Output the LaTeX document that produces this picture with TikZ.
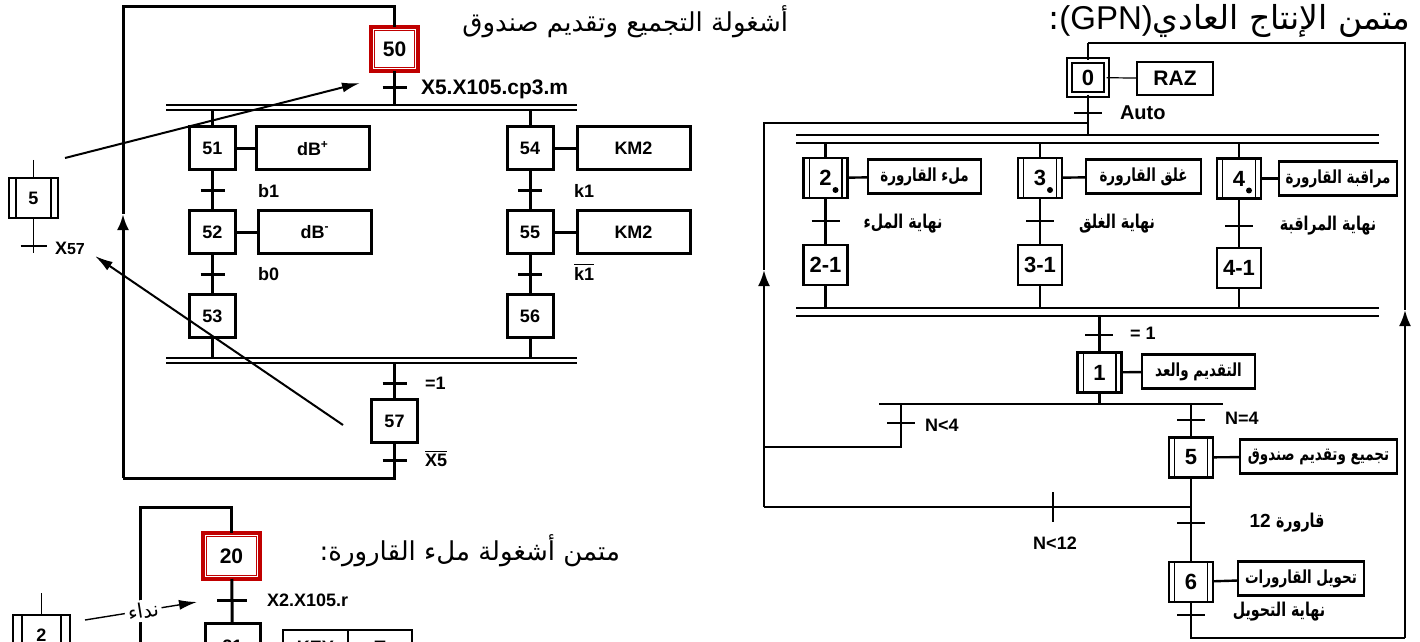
\documentclass[tikz,border=0pt]{standalone}
\usepackage{fontspec}
\setmainfont{Liberation Sans}
\newfontfamily\arabicfont[Script=Arabic]{DejaVu Sans}
\newfontfamily\arabicnarrow[Script=Arabic,FakeStretch=0.75]{DejaVu Sans}
\TeXXeTstate=1
\usetikzlibrary{arrows.meta,positioning}
\definecolor{StepRed}{HTML}{C00000}
\newcommand{\artxt}[1]{{\arabicfont\beginR #1\endR}}
\newcommand{\artn}[1]{{\arabicnarrow\beginR #1\endR}}

\begin{document}
\begin{tikzpicture}[x=0.5pt,y=-0.5pt,
  every node/.style={inner sep=0pt,outer sep=0pt,font=\bfseries\fontsize{9}{10}\selectfont},
  lnk/.style={line width=1.5pt},
  rlnk/.style={line width=1.2pt},
  thinlnk/.style={line width=0.7pt},
  dbar/.style={double,line width=1pt,double distance=1.5pt},
  rbar/.style={double,line width=1pt,double distance=3pt},
  stepbox/.style={draw,line width=1.5pt,minimum width=23pt,minimum height=21.5pt},
  actbox/.style={draw,line width=1.5pt,minimum width=56.5pt,minimum height=21.5pt},
  taskinit/.style={draw=StepRed,line width=1.8pt,minimum width=23.5pt,minimum height=22pt,
    font=\bfseries\fontsize{10.5}{12}\selectfont,
    path picture={\draw[StepRed,line width=0.5pt]
      ([shift={(1.9pt,-1.9pt)}]path picture bounding box.north west) rectangle
      ([shift={(-1.9pt,1.9pt)}]path picture bounding box.south east);}},
  twin/.style={path picture={\draw[line width=0.6pt]
      ([xshift=#1]path picture bounding box.north west) -- ([xshift=#1]path picture bounding box.south west)
      ([xshift=-#1]path picture bounding box.north east) -- ([xshift=-#1]path picture bounding box.south east);}},
  twin/.default=2.8pt,
  gstep/.style={draw,line width=1.4pt,minimum width=22pt,minimum height=20pt,font=\bfseries\fontsize{11}{12}\selectfont},
  ginit/.style={draw,double,line width=1.1pt,double distance=1.2pt,minimum width=18.6pt,minimum height=17.1pt,
    font=\bfseries\fontsize{11}{12}\selectfont},
  gact/.style={draw,line width=1.4pt,minimum height=17pt,font=\bfseries\fontsize{9}{10}\selectfont},
  cond/.style={anchor=west},
  gcond/.style={font=\bfseries\fontsize{9.5}{10}\selectfont},
  arr/.style={line width=1pt,-{Latex[length=9pt,width=5pt]}},
  uparr/.style={-{Latex[length=8pt,width=6pt]}},
  title/.style={anchor=east,font=\fontsize{13}{15}\selectfont}
]
\useasboundingbox (0,0) rectangle (1420,642);
\clip (0,0) rectangle (1420,642);
\fill[white] (0,0) rectangle (1420,642);

% ---- task 50
\node[taskinit] (s50) at (394.5,49) {50};
\coordinate (t50) at (394.5,88);
\node[cond] (c50) at (421,89) {\fontsize{10.5}{12}\selectfont X5.X105.cp3.m};
\coordinate (b1w) at (166,107.5);
\coordinate (b1e) at (577,107.5);
\node[stepbox] (s51) at (212.5,148.5) {51};
\node[actbox,right=10.5pt of s51] (a51) {dB\textsuperscript{+}};
\coordinate (t51) at (212.5,191);
\node[cond] (c51) at (258,191) {b1};
\node[stepbox] (s52) at (212.5,232) {52};
\node[actbox,right=11.5pt of s52] (a52) {dB\textsuperscript{-}};
\coordinate (t52) at (212.5,274);
\node[cond] (c52) at (258,274) {b0};
\node[stepbox] (s53) at (212.5,316) {53};
\node[stepbox] (s54) at (530,148.5) {54};
\node[actbox,right=12pt of s54] (a54) {KM2};
\coordinate (t54) at (530,191);
\node[cond] (c54) at (574,191) {k1};
\node[stepbox] (s55) at (530,232) {55};
\node[actbox,right=12pt of s55] (a55) {KM2};
\coordinate (t55) at (530,274);
\node[cond] (c55) at (574,272) {$\overline{\hbox{k1}}$};
\node[stepbox] (s56) at (530,316) {56};
\coordinate (b2w) at (166,360.5);
\coordinate (b2e) at (577,360.5);
\coordinate (t56) at (394.5,383);
\node[cond] (c56) at (425,383) {=1};
\node[stepbox] (s57) at (394.5,421) {57};
\coordinate (t57) at (394.5,460);
\node[cond] (c57) at (425,458) {$\overline{\hbox{X5}}$};
\coordinate (l57) at (394.5,478);
\coordinate (lbl) at (123,478);
\coordinate (lar) at (123,214);
\coordinate (ltl) at (123,7);
\coordinate (ltr) at (394.5,7);

\draw[lnk] (s50) -- (s50 |- b1w);
\draw[lnk] (s51 |- b1w) -- (s51) -- (s52) -- (s53) -- (s53 |- b2w);
\draw[lnk] (s54 |- b1w) -- (s54) -- (s55) -- (s56) -- (s56 |- b2w);
\draw[lnk] (s57 |- b2w) -- (s57) -- (l57) -- (lbl);
\draw[lnk,uparr] (lbl) -- (lar);
\draw[lnk] (lar) -- (ltl) -- (ltr) -- (s50);
\foreach \s/\a in {s51/a51,s52/a52,s54/a54,s55/a55}
  \draw[lnk] (\s) -- (\a);
\foreach \t in {t50,t51,t52,t54,t55,t56,t57}
  \draw[lnk] ([xshift=-6pt]\t) -- ([xshift=6pt]\t);
\draw[dbar] (b1w) -- (b1e);
\draw[dbar] (b2w) -- (b2e);
\node[title] (h1) at (788,22) {\artxt{أشغولة التجميع وتقديم صندوق}};

% ---- macro step 5 and calls
\node[stepbox,twin=3.5pt,line width=1.2pt,minimum width=24.5pt,minimum height=20pt] (m5) at (33.5,198) {5};
\coordinate (m5a) at (33.5,160);
\coordinate (m5b) at (33.5,253);
\coordinate (tm5) at (33.5,246);
\node[cond] (cm5) at (55,248) {X{\fontsize{8}{9}\selectfont 57}};
\draw[thinlnk] (m5a) -- (m5) -- (m5b);
\draw[thinlnk] ([xshift=-6.5pt]tm5) -- ([xshift=6.5pt]tm5);
\coordinate (p5) at (65,158);
\coordinate (p50) at (360,83);
\draw[arr] (p5) -- (p50);
\coordinate (p57) at (343,425);
\coordinate (px57) at (95,256);
\draw[arr] (p57) -- (px57);

% ---- task 20
\node[taskinit,minimum width=28.5pt,minimum height=23pt] (s20) at (231.5,556) {20};
\coordinate (t20) at (232,600);
\node[cond] (c20) at (267,600) {X2.X105.r};
\node[stepbox,minimum width=27.5pt,minimum height=23pt] (s21) at (232.5,646) {21};
\node[draw,line width=0.6pt,minimum width=32.5pt,minimum height=17pt] (kkey) at (315.5,647) {KEY};
\node[draw,line width=0.6pt,minimum width=32pt,minimum height=17pt,right=0pt of kkey] (kt) {T};
\coordinate (l20a) at (140,680);
\coordinate (l20b) at (140,507);
\coordinate (l20c) at (231.5,507);
\draw[lnk] (l20a) -- (l20b) -- (l20c) -- (s20);
\draw[lnk] (s20) -- (s21);
\draw[lnk] ([xshift=-7.5pt]t20) -- ([xshift=7.5pt]t20);
\node[stepbox,twin=4.5pt,line width=1.3pt,minimum width=28.5pt,minimum height=20pt] (m2) at (41.5,635) {2};
\coordinate (m2a) at (41.5,593);
\draw[thinlnk] (m2a) -- (m2);
\coordinate (q2) at (85,620);
\coordinate (q20) at (197,602);
\draw[arr,line width=0.7pt] (q2) -- node[sloped,pos=0.52,fill=white,inner sep=1.5pt,font=\fontsize{10}{11}\selectfont] (call) {\artxt{نداء}} (q20);
\node[title] (h2) at (620,551) {\artxt{متمن أشغولة ملء القارورة:}};

% ---- GPN
\node[title,font=\fontsize{16.5}{18}\selectfont] (h3) at (1410,21) {\artxt{متمن الإنتاج العادي\beginL{\rmfamily(GPN)}\endL:}};
\node[ginit] (g0) at (1088,77.5) {0};
\node[draw,line width=0.6pt,minimum width=38pt,minimum height=16.5pt,font=\bfseries\fontsize{10.5}{12}\selectfont] (a0) at (1175,78.5) {RAZ};
\coordinate (tg0) at (1088,113);
\node[cond,font=\bfseries\fontsize{10}{12}\selectfont] (cg0) at (1120,113) {Auto};
\coordinate (j0) at (1088,123);
\coordinate (jl) at (764,123);
\coordinate (jla) at (764,270);
\coordinate (jlb) at (764,507);
\coordinate (jl4) at (764,447);
\coordinate (r0) at (1088,43);
\coordinate (r1) at (1405,43);
\coordinate (r2) at (1405,310);
\coordinate (r3) at (1405,638);
\coordinate (b3w) at (796,139);
\coordinate (b3e) at (1379,139);
\node[gstep,twin] (g2) at (825.5,178) {2};
\node[gact,minimum width=56.5pt] (ga2) at (924.5,176.5) {\artn{ملء القارورة}};
\node[gstep,twin] (g3) at (1040,178) {3};
\node[gact,minimum width=57.5pt] (ga3) at (1143.5,176.5) {\artn{غلق القارورة}};
\node[gstep,twin] (g4) at (1239,178.5) {4};
\node[gact,minimum width=59pt] (ga4) at (1338,178.5) {\artn{مراقبة القارورة}};
\coordinate (tg2) at (825.5,221);
\coordinate (tg3) at (1040,221);
\coordinate (tg4) at (1239,226);
\node[gcond] (cg2) at (903,224) {\artn{نهاية الملء}};
\node[gcond] (cg3) at (1117,224) {\artn{نهاية الغلق}};
\node[gcond] (cg4) at (1328,226) {\artn{نهاية المراقبة}};
\node[gstep] (g21) at (825.5,265) {2-1};
\node[gstep] (g31) at (1040,265) {3-1};
\node[gstep] (g41) at (1239,268) {4-1};
\coordinate (b4w) at (796,312);
\coordinate (b4e) at (1379,312);
\coordinate (tg1) at (1099,335);
\node[cond] (cg1) at (1130,333) {= 1};
\node[gstep,twin] (g1) at (1099.5,372.5) {1};
\node[gact,minimum width=56.5pt] (ga1) at (1198.5,371.5) {\artn{التقديم والعد}};
\coordinate (o1w) at (879,404);
\coordinate (o1e) at (1223,404);
\coordinate (o1l) at (901,404);
\coordinate (o1m) at (901,447);
\coordinate (tn4) at (901,423);
\node[cond] (cn4) at (925,425) {N<4};
\coordinate (tn5) at (1191,420);
\node[cond] (cn5) at (1225,418) {N=4};
\node[gstep,twin] (g5) at (1191,457.5) {5};
\node[gact,minimum width=78.5pt] (ga5) at (1318.5,456.5) {\artn{تجميع وتقديم صندوق}};
\coordinate (j5) at (1191,507);
\coordinate (tn12) at (1053,507);
\node (cn12) at (1055,543) {N<12};
\coordinate (tg6) at (1191,523);
\node[font=\bfseries\fontsize{9.5}{11}\selectfont] (cg6) at (1287,523) {12 \artn{قارورة}};
\node[gstep,twin] (g6) at (1191,582) {6};
\node[gact,minimum width=63pt] (ga6) at (1301,578.5) {\artn{تحويل القارورات}};
\coordinate (tg7) at (1191,615);
\node[gcond] (cg7) at (1279,612) {\artn{نهاية التحويل}};
\coordinate (r4) at (1191,638);

\draw[rlnk] (r0) -- (r1) -- (r2);
\draw[rlnk,uparr] (r3) -- (r2);
\draw[rlnk] (r0) -- (g0) -- (j0) -- (g0 |- b3w);
\draw[rlnk] (j0) -- (jl) -- (jla);
\draw[rlnk,uparr] (jlb) -- (jla);
\foreach \s/\e in {g2/g21,g3/g31,g4/g41}
  \draw[rlnk] (\s |- b3w) -- (\s) -- (\e) -- (\e |- b4w);
\draw[rlnk] (g1 |- b4w) -- (g1) -- (g1 |- o1w);
\draw[line width=1.4pt] (o1w) -- (o1e);
\draw[rlnk] (o1l) -- (o1m) -- (jl4);
\draw[rlnk] (g5 |- o1w) -- (g5) -- (g6) -- (r4) -- (r3);
\draw[rlnk] (j5) -- (jlb);
\draw[line width=0.6pt] (g0) -- (a0);
\foreach \s/\a in {g2/ga2,g3/ga3,g4/ga4,g1/ga1,g5/ga5,g6/ga6}
  \draw[rlnk] (\s) -- (\a);
\foreach \t in {tg0,tg2,tg3,tg4,tg1,tn4,tn5,tg6,tg7}
  \draw[rlnk] ([xshift=-7pt]\t) -- ([xshift=7pt]\t);
\draw[rlnk] ([yshift=7.5pt]tn12) -- ([yshift=-7.5pt]tn12);
\foreach \s in {g2,g3,g4}
  \fill ([shift={(5pt,-6pt)}]\s.center) circle (1.5pt);
\draw[rbar] (b3w) -- (b3e);
\draw[rbar] (b4w) -- (b4e);
\end{tikzpicture}
\end{document}
